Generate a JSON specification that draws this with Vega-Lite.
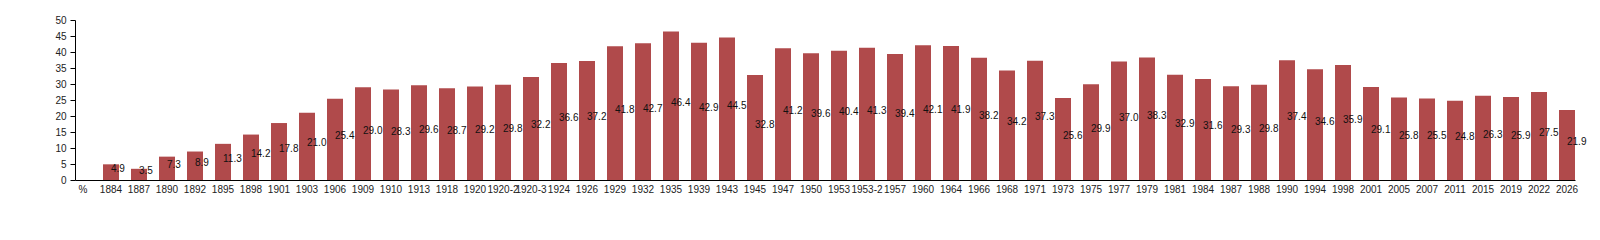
{
  "$schema": "https://vega.github.io/schema/vega-lite/v6.json",
  "autosize": "none",
  "width": 1500,
  "height": 160,
  "padding": {"left": 75, "top": 20, "right": 25, "bottom": 60},
  "background": "white",
  "config": {"view": {"stroke": null}, "font": "Liberation Sans"},
  "data": {"values": [
    {"year": "%", "value": null},
    {"year": "1884", "value": 4.9},
    {"year": "1887", "value": 3.5},
    {"year": "1890", "value": 7.3},
    {"year": "1892", "value": 8.9},
    {"year": "1895", "value": 11.3},
    {"year": "1898", "value": 14.2},
    {"year": "1901", "value": 17.8},
    {"year": "1903", "value": 21.0},
    {"year": "1906", "value": 25.4},
    {"year": "1909", "value": 29.0},
    {"year": "1910", "value": 28.3},
    {"year": "1913", "value": 29.6},
    {"year": "1918", "value": 28.7},
    {"year": "1920", "value": 29.2},
    {"year": "1920-2", "value": 29.8},
    {"year": "1920-3", "value": 32.2},
    {"year": "1924", "value": 36.6},
    {"year": "1926", "value": 37.2},
    {"year": "1929", "value": 41.8},
    {"year": "1932", "value": 42.7},
    {"year": "1935", "value": 46.4},
    {"year": "1939", "value": 42.9},
    {"year": "1943", "value": 44.5},
    {"year": "1945", "value": 32.8},
    {"year": "1947", "value": 41.2},
    {"year": "1950", "value": 39.6},
    {"year": "1953", "value": 40.4},
    {"year": "1953-2", "value": 41.3},
    {"year": "1957", "value": 39.4},
    {"year": "1960", "value": 42.1},
    {"year": "1964", "value": 41.9},
    {"year": "1966", "value": 38.2},
    {"year": "1968", "value": 34.2},
    {"year": "1971", "value": 37.3},
    {"year": "1973", "value": 25.6},
    {"year": "1975", "value": 29.9},
    {"year": "1977", "value": 37.0},
    {"year": "1979", "value": 38.3},
    {"year": "1981", "value": 32.9},
    {"year": "1984", "value": 31.6},
    {"year": "1987", "value": 29.3},
    {"year": "1988", "value": 29.8},
    {"year": "1990", "value": 37.4},
    {"year": "1994", "value": 34.6},
    {"year": "1998", "value": 35.9},
    {"year": "2001", "value": 29.1},
    {"year": "2005", "value": 25.8},
    {"year": "2007", "value": 25.5},
    {"year": "2011", "value": 24.8},
    {"year": "2015", "value": 26.3},
    {"year": "2019", "value": 25.9},
    {"year": "2022", "value": 27.5},
    {"year": "2026", "value": 21.9}
  ]},
  "encoding": {
    "x": {
      "field": "year", "type": "nominal", "sort": null,
      "scale": {
        "domain": ["%","1884","1887","1890","1892","1895","1898","1901","1903","1906","1909","1910","1913","1918","1920","1920-2","1920-3","1924","1926","1929","1932","1935","1939","1943","1945","1947","1950","1953","1953-2","1957","1960","1964","1966","1968","1971","1973","1975","1977","1979","1981","1984","1987","1988","1990","1994","1998","2001","2005","2007","2011","2015","2019","2022","2026"],
        "paddingInner": 0.4286, "paddingOuter": 0
      },
      "axis": {
        "title": null, "labelAngle": 0, "labelOverlap": false, "labelBound": false,
        "ticks": false, "labelPadding": 4, "labelFontSize": 10, "labelColor": "#222",
        "domainColor": "#000", "grid": false, "labelFont": "Liberation Sans"
      }
    }
  },
  "layer": [
    {
      "mark": {"type": "bar", "color": "#b04a4b"},
      "encoding": {
        "y": {
          "field": "value", "type": "quantitative",
          "scale": {"domain": [0, 50], "nice": false},
          "axis": {
            "title": null, "values": [0,5,10,15,20,25,30,35,40,45,50],
            "grid": false, "tickSize": 5, "tickColor": "#000", "domainColor": "#000",
            "labelFontSize": 10, "labelColor": "#222", "labelPadding": 4,
            "labelFont": "Liberation Sans"
          }
        }
      }
    },
    {
      "mark": {"type": "text", "align": "left", "baseline": "alphabetic", "fontSize": 10, "color": "#111", "font": "Liberation Sans"},
      "encoding": {
        "y": {
          "field": "value", "type": "quantitative",
          "scale": {"domain": [0, 100], "nice": false},
          "axis": null
        },
        "text": {"field": "value", "type": "quantitative", "format": ".1f"}
      }
    }
  ],
  "resolve": {"scale": {"y": "independent"}}
}
